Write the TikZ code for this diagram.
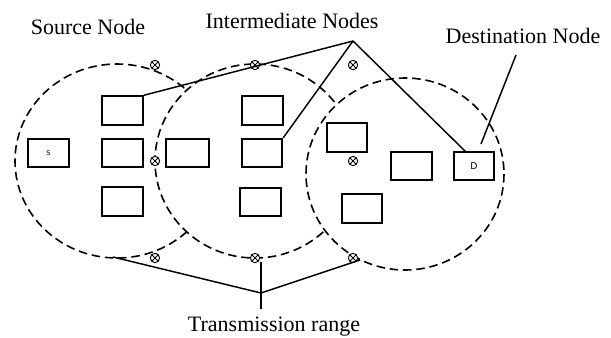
\documentclass[tikz,border=0pt]{standalone}
\usepackage{fontspec}
\setmainfont{Liberation Serif}
\setsansfont{DejaVu Sans}
\tikzset{
  txrange/.style={draw, fill=white, line width=1.2pt, dash pattern=on 6.4pt off 3.6pt},
  hostbox/.style={draw, rectangle, line width=1.3pt, minimum width=30.5pt, minimum height=21.5pt, inner sep=0pt},
  xmark/.style={circle, draw, fill=white, inner sep=0pt, minimum size=7pt, line width=0.7pt,
    path picture={\draw[line width=0.6pt]
      (path picture bounding box.north west) -- (path picture bounding box.south east)
      (path picture bounding box.north east) -- (path picture bounding box.south west);}},
  caption/.style={font=\fontsize{16.5pt}{19pt}\selectfont, inner sep=0pt},
  link/.style={line width=1.1pt}
}
\begin{document}
\begin{tikzpicture}[x=0.75pt,y=-0.75pt]
\useasboundingbox (0,0) rectangle (611,337);

% transmission ranges, each one covering the part of the previous one inside it
\draw[txrange] (117,161) ellipse [x radius=102, y radius=97];
\draw[txrange] (255,161) ellipse [x radius=100, y radius=97];
\draw[txrange] (405,174) ellipse [x radius=99, y radius=96];

% hosts
\node[hostbox] (s)   at (48.5,153) {\sffamily\fontsize{5pt}{6pt}\selectfont S};
\node[hostbox] (a1)  at (122.5,110.5) {};
\node[hostbox] (a2)  at (122.5,153) {};
\node[hostbox] (a3)  at (122.5,201.5) {};
\node[hostbox, minimum width=32pt] (b0) at (187.5,153) {};
\node[hostbox] (b1)  at (262.5,110.5) {};
\node[hostbox] (b2)  at (262,153) {};
\node[hostbox] (b3)  at (260.5,202) {};
\node[hostbox] (c1)  at (347,137.5) {};
\node[hostbox] (c2)  at (411.5,166) {};
\node[hostbox] (c3)  at (362,208.5) {};
\node[hostbox] (d)   at (474,166) {\sffamily\fontsize{7pt}{8pt}\selectfont D};

% range markers
\node[xmark] (m1) at (155,65) {};
\node[xmark] (m2) at (255,65) {};
\node[xmark] (m3) at (353,65) {};
\node[xmark] (m4) at (155,161) {};
\node[xmark] (m5) at (353,161) {};
\node[xmark] (m6) at (155,258) {};
\node[xmark] (m7) at (255,258) {};
\node[xmark] (m8) at (353,258) {};

% labels
\node[caption] (srclbl) at (88,27) {Source Node};
\node[caption] (intlbl) at (292,21) {Intermediate Nodes};
\node[caption] (dstlbl) at (523,36) {Destination Node};
\node[caption] (trlbl)  at (274,327) {Transmission range};

% leader lines
\coordinate (apex)  at (353,41);
\coordinate (dtop)  at (466,152);
\coordinate (dsrc)  at (516,55);
\coordinate (dend)  at (481,144);
\coordinate (tmeet) at (261,293);
\coordinate (ttop)  at (261,262);
\coordinate (tbot)  at (261,309);
\coordinate (tleft) at (113,257);
\coordinate (tright) at (360,260);

\draw[link] (a1.north east) -- (apex);
\draw[link] (apex) -- (b2.north east);
\draw[link] (apex) -- (dtop);
\draw[link] (dsrc) -- (dend);
\draw[link] (tleft) -- (tmeet) -- (tright);
\draw[link] (ttop) -- (tbot);
\end{tikzpicture}
\end{document}
